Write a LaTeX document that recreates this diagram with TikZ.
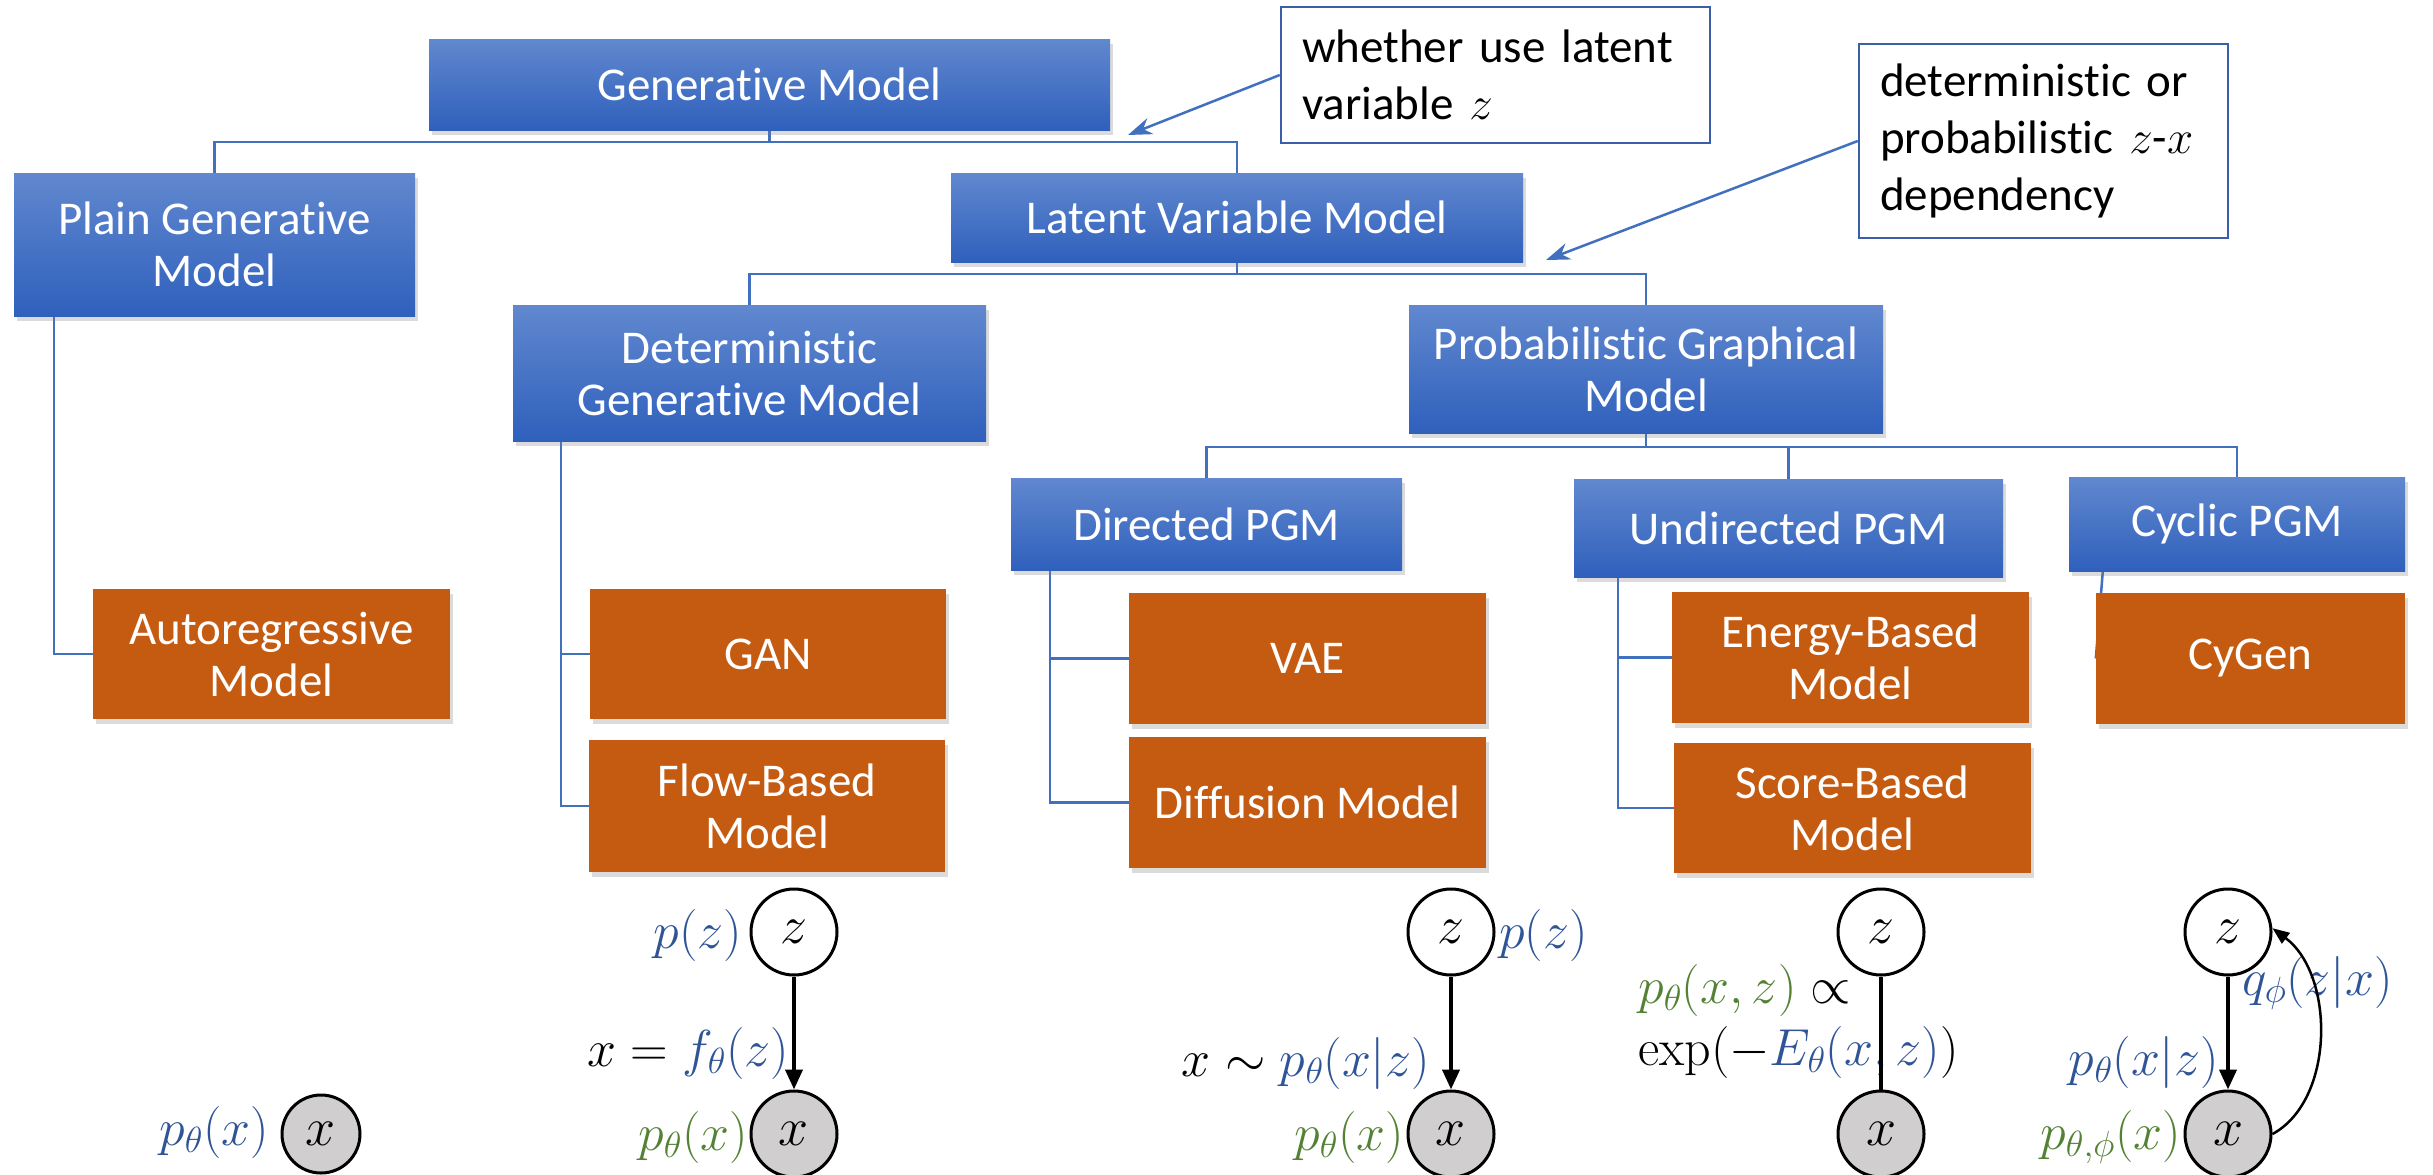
\RequirePackage{fix-cm}
\documentclass[tikz,border=0pt]{standalone}
\usepackage[no-math]{fontspec}
\setmainfont{Carlito}[Ligatures=NoCommon]
\usetikzlibrary{arrows.meta,shadows,backgrounds}
\definecolor{bluetop}{HTML}{6188CF}
\definecolor{bluebot}{HTML}{2F60BC}
\definecolor{orbox}{HTML}{C55A11}
\definecolor{connc}{HTML}{4170BF}
\definecolor{callc}{HTML}{3A5FA8}
\definecolor{mblue}{HTML}{2F5597}
\definecolor{mgreen}{HTML}{548235}
\definecolor{gmgray}{HTML}{D0CECE}
\begin{document}
\begin{tikzpicture}[x=1pt,y=-1pt,
 every node/.style={font=\fontsize{47}{52}\selectfont},
 boxshadow/.style={drop shadow={shadow xshift=3pt,shadow yshift=-5pt,opacity=0.28}},
 bluebox/.style={rectangle, inner sep=0pt, align=center, text=white, top color=bluetop, bottom color=bluebot, boxshadow},
 orangebox/.style={rectangle, inner sep=0pt, align=center, text=white, fill=orbox, boxshadow},
 conn/.style={draw=connc, line width=2.5pt},
 callout/.style={rectangle, draw=callc, line width=2.5pt, fill=white, align=left, inner ysep=0pt, inner xsep=21pt, font=\fontsize{47}{57}\selectfont},
 callarrow/.style={draw=connc, line width=2.5pt, -{Stealth[length=24pt,width=17pt]}},
 gmnode/.style={circle, draw=black, line width=3pt, inner sep=0pt, minimum size=86pt, font=\fontsize{54}{60}\selectfont},
 obs/.style={gmnode, fill=gmgray},
 lat/.style={gmnode, fill=white},
 gmarrow/.style={line width=4pt, -{Triangle[length=20pt,width=17pt]}},
 gmline/.style={line width=4pt},
 cycarrow/.style={line width=2.5pt, -{Triangle[length=17pt,width=13pt]}},
 lbl/.style={inner sep=0pt, font=\fontsize{52}{60}\selectfont}]
\clip (0,0) rectangle (2433,1175);
\begin{pgfonlayer}{background}
\fill[white] (0,0) rectangle (2433,1175);
\end{pgfonlayer}

% tree boxes
\node[bluebox, minimum width=681pt, minimum height=91pt] (gm) at (769.5,84.5) {Generative Model};
\node[bluebox, minimum width=401pt, minimum height=143pt] (plain) at (214.5,244.5) {Plain Generative\\Model};
\node[bluebox, minimum width=572pt, minimum height=89pt] (lvm) at (1237,217.5) {Latent Variable Model};
\node[bluebox, minimum width=473pt, minimum height=136pt] (dgm) at (749.5,373) {Deterministic\\Generative Model};
\node[bluebox, minimum width=474pt, minimum height=128pt] (pgm) at (1646,369) {Probabilistic Graphical\\Model};
\node[bluebox, minimum width=391pt, minimum height=92pt] (dpgm) at (1206.5,524) {Directed PGM};
\node[bluebox, minimum width=429pt, minimum height=98pt] (upgm) at (1788.5,528) {Undirected PGM};
\node[bluebox, minimum width=336pt, minimum height=94pt] (cpgm) at (2237,524) {Cyclic PGM};

\node[orangebox, minimum width=357pt, minimum height=130pt] (autoreg) at (271.5,654) {Autoregressive\\Model};
\node[orangebox, minimum width=356pt, minimum height=130pt] (gan) at (768,654) {GAN};
\node[orangebox, minimum width=356pt, minimum height=132pt] (flow) at (767,806) {Flow-Based\\Model};
\node[orangebox, minimum width=357pt, minimum height=131pt] (vae) at (1307.5,658.5) {VAE};
\node[orangebox, minimum width=357pt, minimum height=131pt] (diff) at (1307.5,802.5) {Diffusion Model};
\node[orangebox, minimum width=357pt, minimum height=131pt] (ebm) at (1850.5,657.5) {Energy-Based\\Model};
\node[orangebox, minimum width=357pt, minimum height=130pt] (score) at (1852.5,808) {Score-Based\\Model};
\node[orangebox, minimum width=309pt, minimum height=131pt] (cygen) at (2250.5,658.5) {CyGen};

% callouts
\node[callout, text width=387pt, minimum height=136pt] (c1) at (1495.5,75) {whether use latent\\variable $z$};
\node[callout, text width=327pt, minimum height=194pt] (c2) at (2043.5,141) {deterministic or\\probabilistic $z$-$x$\\dependency};
\coordinate (a1) at (1128,135);
\coordinate (a2) at (1546,260);
\draw[callarrow] (c1.west) -- (a1);
\draw[callarrow] (c2.west) -- (a2);

% connectors
\begin{pgfonlayer}{background}
\draw[conn] (gm.south) -- ++(0,12) -| (plain.north);
\draw[conn] (gm.south) -- ++(0,12) -| (lvm.north);
\draw[conn] (lvm.south) -- ++(0,12) -| (dgm.north);
\draw[conn] (lvm.south) -- ++(0,12) -| (pgm.north);
\draw[conn] (pgm.south) -- ++(0,14) -| (dpgm.north);
\draw[conn] (pgm.south) -- ++(0,14) -| (upgm.north);
\draw[conn] (pgm.south) -- ++(0,14) -| (cpgm.north);
\draw[conn] ([xshift=40pt]plain.south west) |- (autoreg.west);
\draw[conn] ([xshift=48pt]dgm.south west) |- (gan.west);
\draw[conn] ([xshift=48pt]dgm.south west) |- (flow.west);
\draw[conn] ([xshift=39pt]dpgm.south west) |- (vae.west);
\draw[conn] ([xshift=39pt]dpgm.south west) |- (diff.west);
\draw[conn] ([xshift=44pt]upgm.south west) |- (ebm.west);
\draw[conn] ([xshift=44pt]upgm.south west) |- (score.west);
\draw[conn] ([xshift=34pt]cpgm.south west) -- (cygen.west);
\end{pgfonlayer}

% graphical models
\node[obs, minimum size=78pt] (arx) at (321,1134) {$x$};
\node[lbl, anchor=east] (arl) at (269,1132) {$\color{mblue}p_\theta(x)$};

\node[lat] (dgz) at (794,932) {$z$};
\node[obs] (dgx) at (794,1134) {$x$};
\node[lbl, anchor=east] (dgpz) at (742,935) {$\color{mblue}p(z)$};
\node[lbl, anchor=east] (dgf) at (789,1053) {$x = {\color{mblue}f_\theta(z)}$};
\node[lbl, anchor=east] (dgpx) at (748,1137) {$\color{mgreen}p_\theta(x)$};
\draw[gmarrow] (dgz) -- (dgx);

\node[lat] (vaz) at (1451,932) {$z$};
\node[obs] (vax) at (1451,1134) {$x$};
\node[lbl, anchor=west] (vapz) at (1499,935) {$\color{mblue}p(z)$};
\node[lbl, anchor=east] (vaf) at (1430,1063) {$x \sim {\color{mblue}p_\theta(x|z)}$};
\node[lbl, anchor=east] (vapx) at (1404,1137) {$\color{mgreen}p_\theta(x)$};
\draw[gmarrow] (vaz) -- (vax);

\node[lat] (ebz) at (1881,932) {$z$};
\node[obs] (ebx) at (1881,1134) {$x$};
\node[lbl, anchor=west] (ebp) at (1638,990) {${\color{mgreen}p_\theta(x,z)}\propto$};
\node[lbl, anchor=west] (ebe) at (1638,1052) {$\exp\bigl(-{\color{mblue}E_\theta(x,z)}\bigr)$};
\draw[gmline] (ebz) -- (ebx);

\node[lat] (cyz) at (2228,932) {$z$};
\node[obs] (cyx) at (2228,1134) {$x$};
\node[lbl, anchor=west] (cyq) at (2242,983) {$\color{mblue}q_\phi(z|x)$};
\node[lbl, anchor=east] (cyp) at (2219,1062) {$\color{mblue}p_\theta(x|z)$};
\node[lbl, anchor=east] (cypx) at (2181,1137) {$\color{mgreen}p_{\theta,\phi}(x)$};
\draw[gmarrow] (cyz) -- (cyx);
\draw[cycarrow] (cyx.east) .. controls (2335,1100) and (2335,975) .. (cyz.5);
\end{tikzpicture}
\end{document}
